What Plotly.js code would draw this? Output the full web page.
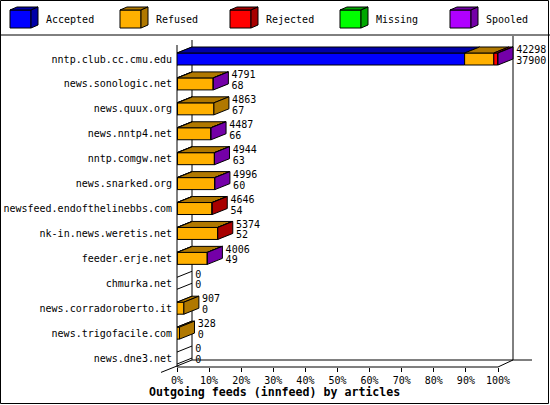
<!DOCTYPE html>
<html>
<head>
<meta charset="utf-8">
<script src="https://cdn.plot.ly/plotly-3.0.1.min.js"></script>
<style>
body{margin:0;background:#fff}
#chart{width:550px;height:405px}
</style>
</head>
<body>
<div id="chart"></div>
<script>
// hosts, top to bottom
var hosts = ['nntp.club.cc.cmu.edu','news.sonologic.net','news.quux.org','news.nntp4.net',
  'nntp.comgw.net','news.snarked.org','newsfeed.endofthelinebbs.com','nk-in.news.weretis.net',
  'feeder.erje.net','chmurka.net','news.corradoroberto.it','news.trigofacile.com','news.dne3.net'];
var offered  = [42298,4791,4863,4487,4944,4996,4646,5374,4006,0,907,328,0];
var accepted = [37900,  68,  67,  66,  63,  60,  54,  52,  49,0,  0,  0,0];
var refused  = [ 3850,4700,4796,4400,4860,4915,4560,5290,3940,0,907,328,0];
var rejected = [  520,   0,   0,   0,   0,   0,  32,  32,   0,0,  0,  0,0];
var missing  = [    0,   0,   0,   0,   0,   0,   0,   0,   0,0,  0,  0,0];
var spooled  = [   28,  23,   0,  21,  21,  21,   0,   0,  17,0,  0,  0,0];
var pctTicks = [0,10,20,30,40,50,60,70,80,90,100];

var names  = ['Accepted','Refused','Rejected','Missing','Spooled'];
var values = [accepted, refused, rejected, missing, spooled];
var front  = ['#0000ff','#ffb000','#ff0000','#00ff00','#b000ff'];
var dark   = ['#0000a8','#b07800','#a80000','#00a800','#7400a8'];

// pixel geometry of the plot
var L = 177, R = 548, T = 36, B = 367;
var pxPerUnit = 3.21;          // 100% = 321px
var rowPitch = 24.92, row0 = 59;
var xmax = (R - L) / pxPerUnit;
var dx = 15 / pxPerUnit, dy = 6 / rowPitch, half = 6 / rowPitch;

function px(x){ return (x - L) / (R - L); }
function py(y){ return (B - y) / (B - T); }

var maxOff = Math.max.apply(null, offered);
function pct(v){ return v / maxOff * 100; }

var traces = [];
var ends = [];
var idx = hosts.map(function(h, i){ return i; });

// front faces
var base = hosts.map(function(){ return 0; });
var segs = hosts.map(function(){ return []; });
for (var s = 0; s < values.length; s++) {
  var xs = [], bs = [];
  for (var i = 0; i < hosts.length; i++) {
    var w = pct(values[s][i]);
    xs.push(w > 0 ? w : null);
    bs.push(base[i]);
    if (w > 0) segs[i].push({s: s, x0: base[i], x1: base[i] + w});
    base[i] += w;
  }
  traces.push({
    type: 'bar', orientation: 'h', y: idx, x: xs, base: bs, width: 2 * half,
    marker: {color: front[s], line: {color: '#000', width: 1}},
    showlegend: false, hoverinfo: 'skip'
  });
}

// top faces + end face of each row
function poly(xx, yy, col){
  traces.push({
    type: 'scatter', mode: 'lines', x: xx, y: yy, fill: 'toself', fillcolor: col,
    line: {color: '#000', width: 1}, showlegend: false, hoverinfo: 'skip'
  });
}
for (var i = 0; i < hosts.length; i++) {
  var yt = i - half, yb = i + half;
  segs[i].forEach(function(g){
    poly([g.x0, g.x1, g.x1 + dx, g.x0 + dx, g.x0], [yt, yt, yt - dy, yt - dy, yt], dark[g.s]);
  });
  if (segs[i].length) {
    var last = segs[i][segs[i].length - 1];
    poly([last.x1, last.x1, last.x1 + dx, last.x1 + dx, last.x1],
         [yt, yb, yb - dy, yt - dy, yt], dark[last.s]);
  }
  ends.push(base[i] + dx + 1);
}

// numbers at the end of each bar
var txtFont = {family: 'DejaVu Sans Mono', size: 10, color: '#000'};
traces.push({
  type: 'scatter', mode: 'text', x: ends, y: idx.map(function(i){ return i - 0.33; }),
  text: offered.map(String), textposition: 'middle right', textfont: txtFont,
  cliponaxis: false, showlegend: false, hoverinfo: 'skip'
});
traces.push({
  type: 'scatter', mode: 'text', x: ends, y: idx.map(function(i){ return i + 0.1; }),
  text: accepted.map(String), textposition: 'middle right', textfont: txtFont,
  cliponaxis: false, showlegend: false, hoverinfo: 'skip'
});

// frame: walls, floor, border, legend
var shapes = [];
function line(x0, y0, x1, y1, layer){
  shapes.push({type: 'line', xref: 'paper', yref: 'paper', x0: px(x0), y0: py(y0), x1: px(x1), y1: py(y1),
    line: {color: '#000', width: 1}, layer: layer || 'above'});
}
// left wall slants for each row
for (var i = 0; i < hosts.length; i++) {
  [i - half, i + half].forEach(function(v){
    shapes.push({type: 'line', xref: 'x', yref: 'y', x0: 0, y0: v, x1: dx, y1: v - dy,
      line: {color: '#000', width: 1}, layer: 'below'});
  });
}
line(177, 45, 177, 367, 'below');
line(192, 40, 192, 360, 'below');
line(192, 360, 532, 360, 'below');
line(177, 367, 498, 367, 'below');
line(498, 367, 513, 360, 'below');
line(513, 36, 513, 360, 'below');
line(161, 372.4, 192, 360, 'below');
line(0, 35, 550, 35);
shapes.push({type: 'rect', xref: 'paper', yref: 'paper', x0: px(0.5), y0: py(0.5), x1: px(548.5), y1: py(403.5),
  line: {color: '#000', width: 1}});

var annotations = [];
function path(pts){
  return 'M' + pts.map(function(p){ return px(p[0]) + ',' + py(p[1]); }).join('L') + 'Z';
}
for (var s = 0; s < names.length; s++) {
  var x0 = 10 + 110 * s;
  shapes.push({type: 'path', xref: 'paper', yref: 'paper', fillcolor: front[s],
    path: path([[x0, 10], [x0 + 21, 10], [x0 + 21, 28], [x0, 28]]), line: {color: '#000', width: 1}});
  shapes.push({type: 'path', xref: 'paper', yref: 'paper', fillcolor: dark[s],
    path: path([[x0, 10], [x0 + 7, 7], [x0 + 28, 7], [x0 + 21, 10]]), line: {color: '#000', width: 1}});
  shapes.push({type: 'path', xref: 'paper', yref: 'paper', fillcolor: dark[s],
    path: path([[x0 + 21, 10], [x0 + 28, 7], [x0 + 28, 25], [x0 + 21, 28]]), line: {color: '#000', width: 1}});
  annotations.push({xref: 'paper', yref: 'paper', x: px(x0 + 34), y: py(20), xanchor: 'left', yanchor: 'middle',
    text: names[s], showarrow: false, font: txtFont});
}
annotations.push({xref: 'paper', yref: 'paper', x: px(274), y: py(392), xanchor: 'center', yanchor: 'middle',
  text: '<b>Outgoing feeds (innfeed) by articles</b>', showarrow: false,
  font: {family: 'DejaVu Sans Mono', size: 11.6, color: '#000'}});

var layout = {
  width: 550, height: 405,
  margin: {l: L, r: 550 - R, t: T, b: 405 - B, pad: 0},
  paper_bgcolor: '#fff', plot_bgcolor: '#fff',
  barmode: 'overlay', showlegend: false,
  font: txtFont,
  xaxis: {range: [0, xmax], tickmode: 'array', tickvals: pctTicks,
    ticktext: pctTicks.map(function(v){ return v + '%'; }),
    ticks: 'outside', ticklen: 4, tickcolor: '#000', showgrid: false, zeroline: false, showline: false,
    tickfont: txtFont, fixedrange: true},
  yaxis: {range: [(B - row0) / rowPitch, (T - row0) / rowPitch], tickmode: 'array', tickvals: idx, ticktext: hosts,
    ticks: '', showgrid: false, zeroline: false, showline: false, ticklabelstandoff: 4,
    tickfont: txtFont, fixedrange: true},
  shapes: shapes, annotations: annotations
};

Plotly.newPlot('chart', traces, layout, {staticPlot: true});
</script>
</body>
</html>
